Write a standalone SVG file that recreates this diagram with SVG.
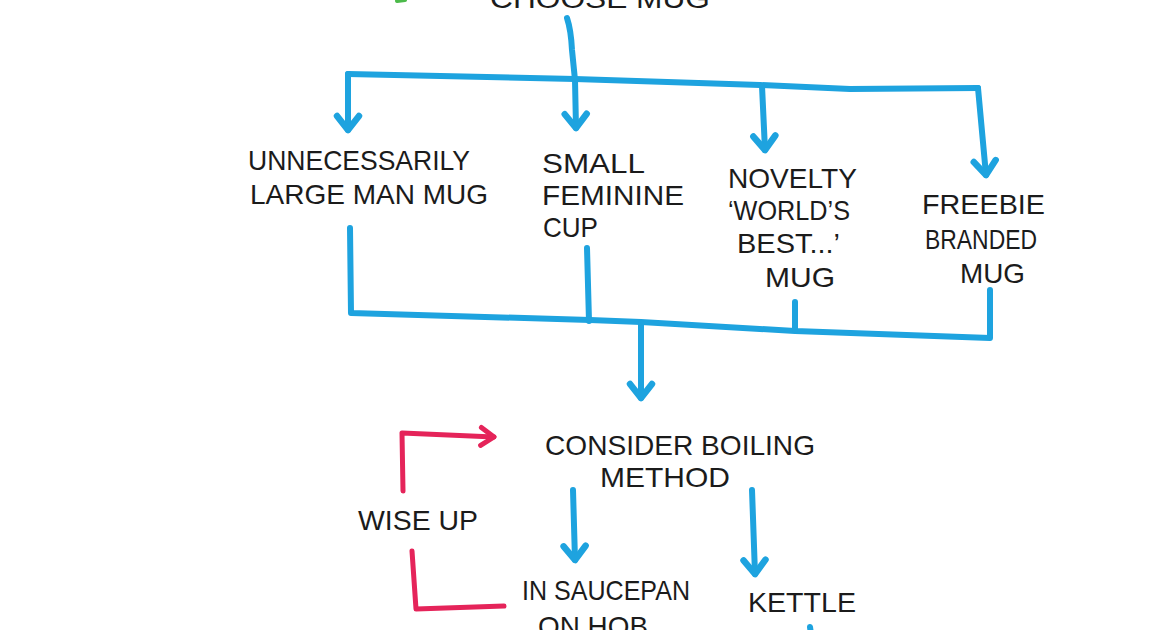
<svg xmlns="http://www.w3.org/2000/svg" width="1166" height="630" viewBox="0 0 1166 630">
<style>
.t{font-family:"Liberation Sans","DejaVu Sans",sans-serif;font-size:28px;fill:#1b1b1b;}
.b{fill:none;stroke:#1ea3df;stroke-width:6;stroke-linecap:round;stroke-linejoin:round;}
.r{fill:none;stroke:#e5245a;stroke-width:5;stroke-linecap:round;stroke-linejoin:round;}
</style>
<defs>
<marker id="ab" markerUnits="userSpaceOnUse" viewBox="-20 -15 26 30" refX="0" refY="0" markerWidth="26" markerHeight="30" orient="auto">
<path d="M-14,-11 L0,0 L-14,11" fill="none" stroke="#1ea3df" stroke-width="6.5" stroke-linecap="round" stroke-linejoin="round"/>
</marker>
<marker id="ar" markerUnits="userSpaceOnUse" viewBox="-20 -15 26 30" refX="0" refY="0" markerWidth="26" markerHeight="30" orient="auto">
<path d="M-13,-9 L0,0 L-13,9" fill="none" stroke="#e5245a" stroke-width="5" stroke-linecap="round" stroke-linejoin="round"/>
</marker>
</defs>
<rect width="1166" height="630" fill="#ffffff"/>
<g id="connectors">
<path class="b" d="M567,18 Q571,30 572,50 L575,80 L576,128" marker-end="url(#ab)"/>
<path class="b" d="M348,74 L575,79 L760,85 L850,89 L978,88"/>
<path class="b" d="M348,74 L348,130" marker-end="url(#ab)"/>
<path class="b" d="M762,86 L765,150" marker-end="url(#ab)"/>
<path class="b" d="M978,88 L986,175" marker-end="url(#ab)"/>
<path class="b" d="M350,228 L351,313 L590,320 L641,322 L795,331 L990,338 L990,290"/>
<path class="b" d="M587,248 L589,321"/>
<path class="b" d="M795,302 L795,330"/>
<path class="b" d="M641,323 L641,398" marker-end="url(#ab)"/>
<path class="b" d="M573,490 L575,560" marker-end="url(#ab)"/>
<path class="b" d="M752,490 L755,574" marker-end="url(#ab)"/>
<path class="b" d="M810,627 L811,634"/>
<path class="r" d="M403,491 L402,433 L494,437" marker-end="url(#ar)"/>
<path class="r" d="M412,551 L416,609 L504,606"/>
<path d="M397,1 L405,0" stroke="#4cba4a" stroke-width="4" stroke-linecap="round"/>
</g>
<g id="choose-mug"><text class="t" x="490" y="8" textLength="220" lengthAdjust="spacingAndGlyphs">CHOOSE MUG</text></g>
<g id="man-mug">
<text class="t" x="248" y="170" textLength="222" lengthAdjust="spacingAndGlyphs">UNNECESSARILY</text>
<text class="t" x="250" y="204" textLength="238" lengthAdjust="spacingAndGlyphs">LARGE MAN MUG</text>
</g>
<g id="feminine-cup">
<text class="t" x="542" y="173" textLength="103" lengthAdjust="spacingAndGlyphs">SMALL</text>
<text class="t" x="542" y="205" textLength="142" lengthAdjust="spacingAndGlyphs">FEMININE</text>
<text class="t" x="543" y="237" textLength="55" lengthAdjust="spacingAndGlyphs">CUP</text>
</g>
<g id="novelty-mug">
<text class="t" x="728" y="188" textLength="129" lengthAdjust="spacingAndGlyphs">NOVELTY</text>
<text class="t" x="728" y="220" textLength="122" lengthAdjust="spacingAndGlyphs">‘WORLD’S</text>
<text class="t" x="737" y="253" textLength="103" lengthAdjust="spacingAndGlyphs">BEST...’</text>
<text class="t" x="765" y="287" textLength="70" lengthAdjust="spacingAndGlyphs">MUG</text>
</g>
<g id="freebie-mug">
<text class="t" x="922" y="214" textLength="123" lengthAdjust="spacingAndGlyphs">FREEBIE</text>
<text class="t" x="925" y="249" textLength="112" lengthAdjust="spacingAndGlyphs">BRANDED</text>
<text class="t" x="960" y="283" textLength="65" lengthAdjust="spacingAndGlyphs">MUG</text>
</g>
<g id="consider-boiling">
<text class="t" x="545" y="455" textLength="270" lengthAdjust="spacingAndGlyphs">CONSIDER BOILING</text>
<text class="t" x="600" y="487" textLength="130" lengthAdjust="spacingAndGlyphs">METHOD</text>
</g>
<g id="wise-up"><text class="t" x="358" y="530" textLength="120" lengthAdjust="spacingAndGlyphs">WISE UP</text></g>
<g id="saucepan">
<text class="t" x="522" y="600" textLength="168" lengthAdjust="spacingAndGlyphs">IN SAUCEPAN</text>
<text class="t" x="538" y="636" textLength="110" lengthAdjust="spacingAndGlyphs">ON HOB</text>
</g>
<g id="kettle"><text class="t" x="748" y="612" textLength="108" lengthAdjust="spacingAndGlyphs">KETTLE</text></g>
</svg>
